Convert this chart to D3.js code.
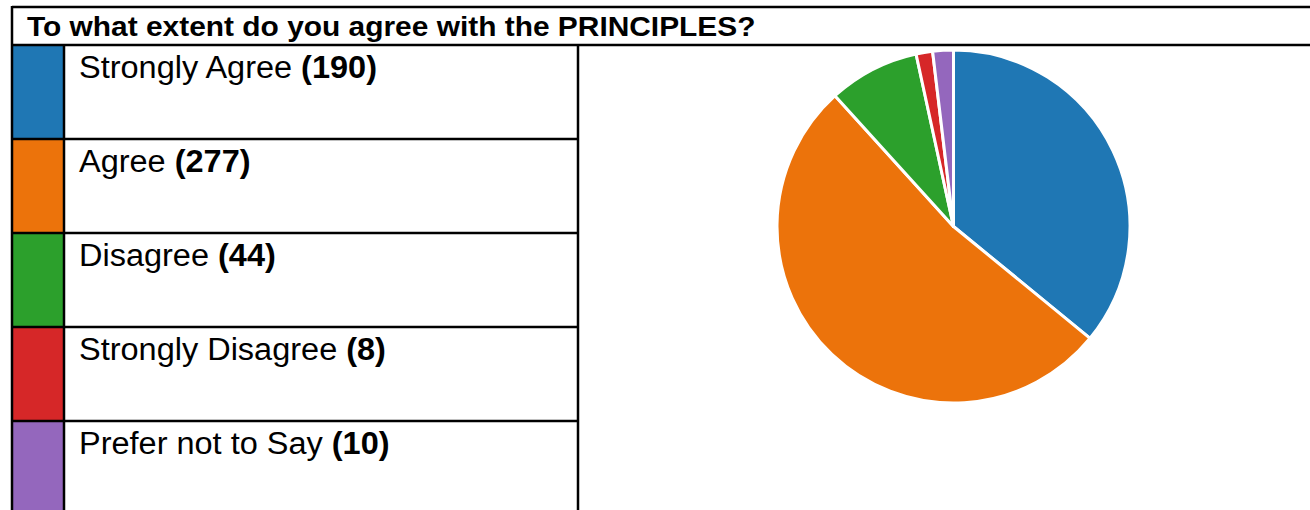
<!DOCTYPE html>
<html><head><meta charset="utf-8">
<script src="https://cdn.jsdelivr.net/npm/d3@7/dist/d3.min.js"></script>
<style>html,body{margin:0;padding:0;background:#fff;overflow:hidden}</style>
</head><body><svg id="c" width="1310" height="510"></svg>
<script>
const title = "To what extent do you agree with the PRINCIPLES?";
const categories = ["Strongly Agree", "Agree", "Disagree", "Strongly Disagree", "Prefer not to Say"];
const values = [190, 277, 44, 8, 10];
const colors = ["#1f77b4", "#ec730b", "#2ca02c", "#d62728", "#9467bd"];

const svg = d3.select("#c");
const font = "'Liberation Sans', Arial, sans-serif";
const tableLeft = 13, swatchRight = 64, labelRight = 578, tableRight = 1320;
const titleTop = 7, titleBottom = 45, rowH = 94;

const rowY = d3.scaleLinear().domain([0, 1]).range([titleBottom, titleBottom + rowH]);

// swatches
svg.selectAll("rect.sw").data(categories).join("rect")
  .attr("x", tableLeft).attr("y", (d, i) => rowY(i))
  .attr("width", swatchRight - tableLeft).attr("height", rowH)
  .attr("fill", (d, i) => colors[i]);

// labels
const lab = svg.selectAll("text.lab").data(categories).join("text")
  .attr("transform", (d, i) => `translate(79,${rowY(i) + 33}) scale(1.048,1)`)
  .attr("font-family", font).attr("font-size", 31).attr("fill", "#000");
lab.append("tspan").text(d => d + " ");
lab.append("tspan").attr("font-weight", "bold").text((d, i) => "(" + values[i] + ")");

// title
svg.append("text").attr("transform", "translate(27,36) scale(1.087,1)").attr("font-family", font)
  .attr("font-size", 27.5).attr("font-weight", "bold").text(title);

// grid lines
const g = svg.append("g").attr("stroke", "#000").attr("stroke-width", 2.5);
g.append("line").attr("x1", tableLeft - 1).attr("x2", tableRight).attr("y1", titleTop).attr("y2", titleTop);
g.append("line").attr("x1", tableLeft - 1).attr("x2", tableRight).attr("y1", titleBottom).attr("y2", titleBottom);
g.append("line").attr("x1", tableLeft - 1).attr("x2", tableLeft - 1).attr("y1", titleTop - 1).attr("y2", 520);
g.append("line").attr("x1", swatchRight).attr("x2", swatchRight).attr("y1", titleBottom).attr("y2", 520);
g.append("line").attr("x1", labelRight).attr("x2", labelRight).attr("y1", titleBottom).attr("y2", 520);
g.selectAll("line.row").data(d3.range(1, categories.length)).join("line")
  .attr("x1", tableLeft - 1).attr("x2", labelRight).attr("y1", d => rowY(d)).attr("y2", d => rowY(d));

// pie
const cx = 953.5, cy = 226.5, r = 176.5;
const pie = d3.pie().sort(null).value(d => d)(values);
const arc = d3.arc().innerRadius(0).outerRadius(r);
svg.append("g").attr("transform", `translate(${cx},${cy})`)
  .selectAll("path").data(pie).join("path")
  .attr("d", arc).attr("fill", (d, i) => colors[i])
  .attr("stroke", "#fff").attr("stroke-width", 3).attr("stroke-linejoin", "round");
</script></body></html>
